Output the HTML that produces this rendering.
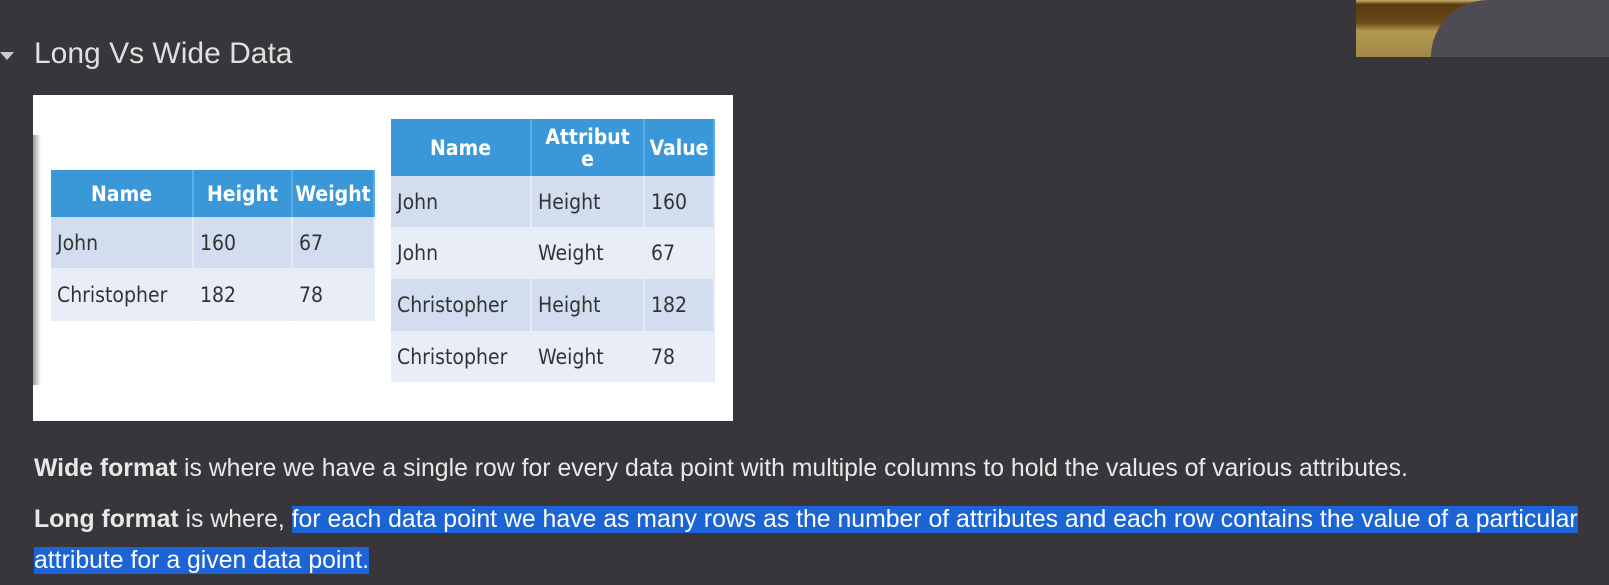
<!DOCTYPE html>
<html><head><meta charset="utf-8"><style>
body{margin:0;width:1609px;height:585px;background:#38363b;overflow:hidden;font-family:"Liberation Sans",sans-serif;position:relative}
.abs{position:absolute}
table{border-collapse:collapse;position:absolute;font-family:"DejaVu Sans Condensed","DejaVu Sans","Liberation Sans",sans-serif;font-size:21px;color:#333}
th{background:#3a98d8;color:#fff;font-weight:bold;border-right:2px solid #5aaee3;text-align:center}
td{padding-left:6px;border-right:2px solid #e6ebf5}
tr.a td{background:#d3ddf0}
tr.b td{background:#e9edf7}
.p{position:absolute;left:34px;color:#e8e8e8;font-size:24.8px;line-height:41px;white-space:nowrap}
.hl{background:#1c64d6;color:#fff}
</style></head><body>
<div class="abs" style="left:0;top:52px;width:0;height:0;border-left:7px solid transparent;border-right:7px solid transparent;border-top:8px solid #ccc"></div>
<div class="abs" style="left:1356px;top:0;width:253px;height:57px;background:linear-gradient(180deg,#c9b070 0,#5a3a10 8%,#6a4a18 40%,#b49a50 55%,#a08848 100%)"><div style="position:absolute;left:75px;top:0;width:178px;height:57px;border-radius:60px 0 0 0;background:#4e4b52"></div></div>
<div class="abs" style="left:34px;top:37px;font-size:30px;color:#e0e0e0">Long Vs Wide Data</div>
<div class="abs" style="left:33px;top:95px;width:700px;height:326px;background:#fff">
 <div class="abs" style="left:0;top:40px;width:8px;height:250px;background:linear-gradient(90deg,#999,#fff)"></div>
 <table style="left:18px;top:75px;width:324px">
  <tr style="height:47px"><th style="width:139px">Name</th><th style="width:95px">Height</th><th>Weight</th></tr>
  <tr class="a" style="height:51px"><td>John</td><td>160</td><td>67</td></tr>
  <tr class="b" style="height:53px"><td>Christopher</td><td>182</td><td>78</td></tr>
 </table>
 <table style="left:358px;top:24px;width:324px">
  <tr style="height:57px"><th style="width:137px">Name</th><th style="width:109px;line-height:22px">Attribut<br>e</th><th>Value</th></tr>
  <tr class="a" style="height:51px"><td>John</td><td>Height</td><td>160</td></tr>
  <tr class="b" style="height:52px"><td>John</td><td>Weight</td><td>67</td></tr>
  <tr class="a" style="height:52px"><td>Christopher</td><td>Height</td><td>182</td></tr>
  <tr class="b" style="height:51px"><td>Christopher</td><td>Weight</td><td>78</td></tr>
 </table>
</div>
<div class="p" style="top:448px"><b>Wide format</b> is where we have a single row for every data point with multiple columns to hold the values of various attributes.</div>
<div class="p" style="top:499px"><b>Long format</b> is where, <span class="hl">for each data point we have as many rows as the number of attributes and each row contains the value of a particular</span><br><span class="hl">attribute for a given data point.</span></div>
</body></html>
